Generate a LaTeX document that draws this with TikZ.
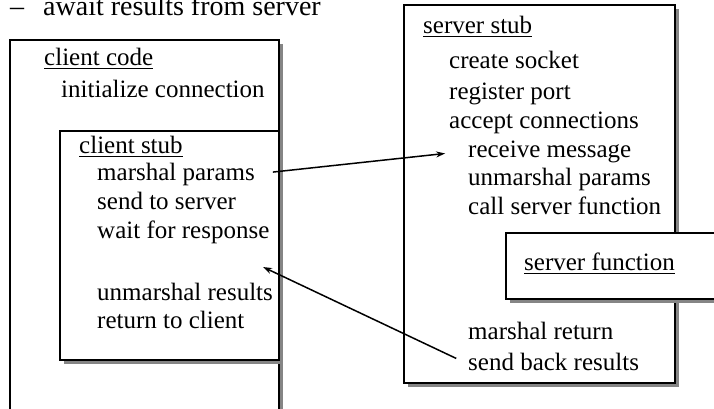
\documentclass[tikz,border=0pt]{standalone}
\usepackage{fontspec}
\setmainfont{Liberation Serif}
\usetikzlibrary{shadows,arrows.meta}

\begin{document}
\begin{tikzpicture}[x=1pt, y=-1pt,
        box/.style={draw, line width=1.5pt, fill=white,
                drop shadow={shadow xshift=4pt, shadow yshift=-4pt, fill=black!48, opacity=1}},
        txt/.style={anchor=base west, inner sep=0pt, text height=12pt, text depth=0pt,
                font=\fontsize{25}{30}\selectfont},
        uline/.style={line width=1.3pt},
        link/.style={line width=1.5pt, -{Stealth[length=9pt, width=6pt]}}]
        \useasboundingbox (0,0) rectangle (714,408);
        \clip (0,0) rectangle (714,408);

        \node[txt, font=\fontsize{28}{34}\selectfont] (await) at (10,15) {--\hspace{19pt}await results from server};

        % client side
        \draw[box] (10,40) rectangle (279,440);
        \node[txt] (cc) at (44,65) {client code};
        \node[txt] (ic) at (61,97) {initialize connection};

        \draw[box] (60,131) rectangle (279,360);
        \node[txt] (cs) at (79,153) {client stub};
        \node[txt] (mp) at (97,180) {marshal params};
        \node[txt] (ss) at (97,209) {send to server};
        \node[txt] (wr) at (97,238) {wait for response};
        \node[txt] (ur) at (97,300) {unmarshal results};
        \node[txt] (rc) at (97,328) {return to client};

        % server side
        \draw[box] (404,5) rectangle (675,383);
        \node[txt] (sst) at (423,33) {server stub};
        \node[txt] (cso) at (449,68) {create socket};
        \node[txt] (rp) at (449,99) {register port};
        \node[txt] (ac) at (449,128) {accept connections};
        \node[txt] (rm) at (468,157) {receive message};
        \node[txt] (up) at (468,185) {unmarshal params};
        \node[txt] (csf) at (468,214) {call server function};

        \draw[box] (506,233) rectangle (740,299);
        \node[txt] (sf) at (524,270) {server function};

        \node[txt] (mr) at (468,339) {marshal return};
        \node[txt] (sbr) at (468,370) {send back results};

        % headings are underlined
        \foreach \h in {cc,cs,sst,sf}
                \draw[uline] ([yshift=-3.5pt]\h.base west) -- ([yshift=-3.5pt]\h.base east);

        % request and reply
        \coordinate (back) at (263,267);
        \draw[link, shorten <=18pt, shorten >=23pt] (mp.east) -- (rm.west);
        \draw[link, shorten <=13pt] (sbr.west) -- (back);
\end{tikzpicture}
\end{document}
